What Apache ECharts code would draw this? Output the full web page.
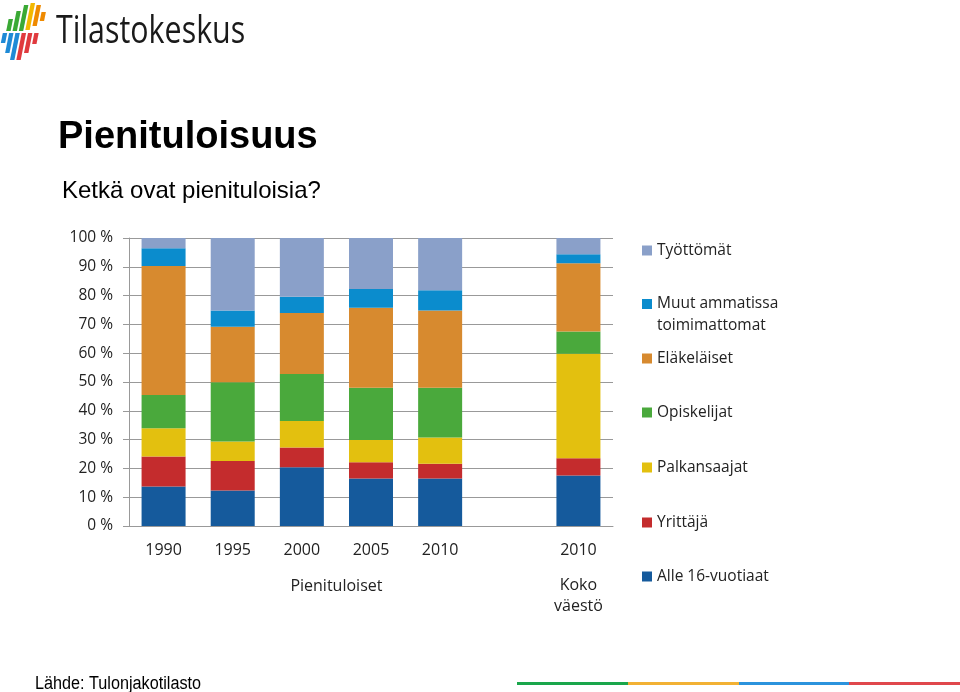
<!DOCTYPE html>
<html><head><meta charset="utf-8">
<script src="https://cdn.jsdelivr.net/npm/echarts@6/dist/echarts.min.js"></script>
<style>html,body{margin:0;padding:0;background:#fff}#c{width:960px;height:692px}</style>
</head><body><div id="c"></div>
<script>
// ---- data ----
var categories = ['1990', '1995', '2000', '2005', '2010', '', '2010'];
var alle16 = [13.7, 12.3, 20.4, 16.5, 16.5, '-', 17.5];
var yrittaja = [10.4, 10.3, 6.9, 5.6, 5.1, '-', 6.0];
var palkansaajat = [9.8, 6.7, 9.2, 7.8, 9.1, '-', 36.3];
var opiskelijat = [11.6, 20.6, 16.3, 18.1, 17.3, '-', 7.7];
var elakelaiset = [44.8, 19.3, 21.2, 27.8, 26.8, '-', 23.7];
var muut = [6.1, 5.6, 5.6, 6.5, 7.1, '-', 3.2];
var tyottomat = [3.6, 25.2, 20.4, 17.7, 18.1, '-', 5.6];
var seriesNames = ['Alle 16-vuotiaat', 'Yrittäjä', 'Palkansaajat', 'Opiskelijat', 'Eläkeläiset', 'Muut ammatissa toimimattomat', 'Työttömät'];
var seriesData = [alle16, yrittaja, palkansaajat, opiskelijat, elakelaiset, muut, tyottomat];
var seriesColors = ['#155a9c', '#c42c2d', '#e3c00f', '#4aa93c', '#d78a2f', '#0b8ccd', '#8aa0c9'];
var yTicks = {min: 0, max: 100, interval: 10};
var groupLabel = 'Pienituloiset';
var totalLabel = 'Koko\nväestö';

var font = '"Open Sans", "DejaVu Sans", sans-serif';
var chart = echarts.init(document.getElementById('c'));

// legends (top to bottom, reverse of stacking)
var legendOrder = [6, 5, 4, 3, 2, 1, 0];
var legendCenters = [249, 303, 357, 411, 466, 521, 575];
var legends = legendOrder.map(function (si, k) {
  var multi = seriesNames[si] === 'Muut ammatissa toimimattomat';
  return {
    data: [seriesNames[si]],
    orient: 'vertical', left: 642,
    top: multi ? legendCenters[k] - 32 : legendCenters[k] - 8.5,
    padding: 0, itemWidth: 10, itemHeight: 10, icon: 'rect', selectedMode: false,
    formatter: function (n) { return n === 'Muut ammatissa toimimattomat' ? ' \nMuut ammatissa\ntoimimattomat' : n; },
    textStyle: {fontFamily: font, fontSize: 15.5, color: '#222', lineHeight: multi ? 22 : 20}
  };
});

var option = {
  animation: false,
  backgroundColor: '#fff',
  grid: {left: 129, right: 347, top: 238, bottom: 166, containLabel: false},
  legend: legends,
  xAxis: {
    type: 'category', data: categories,
    axisLine: {show: true, lineStyle: {color: '#999', width: 1}},
    axisTick: {show: false},
    axisLabel: {interval: 0, margin: 16, fontFamily: font, fontSize: 16, color: '#222'}
  },
  yAxis: {
    type: 'value', min: yTicks.min, max: yTicks.max, interval: yTicks.interval,
    axisLine: {show: true, lineStyle: {color: '#999'}},
    axisTick: {show: true, length: 6, lineStyle: {color: '#999'}},
    splitLine: {lineStyle: {color: '#999', width: 1}},
    axisLabel: {margin: 16, fontFamily: font, fontSize: 15.5, color: '#222', formatter: '{value} %'}
  },
  series: seriesNames.map(function (n, i) {
    return {name: n, type: 'bar', stack: 'total', barWidth: 44, data: seriesData[i],
      itemStyle: {color: seriesColors[i]}};
  })
};
chart.setOption(option);

// group labels under axis, positioned through the axis scale
var p0 = chart.convertToPixel({gridIndex: 0}, [0, 0]);
var p5 = chart.convertToPixel({gridIndex: 0}, [5, 0]);
var p6 = chart.convertToPixel({gridIndex: 0}, [6, 0]);

// logo stripes
var logoTop = [
  {x: 6, top: 19, bot: 31, c: '#3aa935'},
  {x: 12.3, top: 11, bot: 31, c: '#3aa935'},
  {x: 18.6, top: 5, bot: 31, c: '#3aa935'},
  {x: 24.9, top: 3, bot: 30, c: '#f3b800'},
  {x: 31.2, top: 5, bot: 26, c: '#ef8a00'},
  {x: 37.5, top: 12, bot: 21, c: '#ef8a00'}
];
var logoBot = [
  {x: 3, top: 33, bot: 43, c: '#1e8ad6'},
  {x: 9.3, top: 33, bot: 53, c: '#1e8ad6'},
  {x: 15.6, top: 33, bot: 60, c: '#1e8ad6'},
  {x: 21.9, top: 33, bot: 60, c: '#e03a3e'},
  {x: 28.2, top: 33, bot: 53, c: '#e03a3e'},
  {x: 34.5, top: 33, bot: 44, c: '#e03a3e'}
];
function stripe(s) {
  var sk = 0.2, w = 4.4;
  var xt = s.x + (32 - s.top) * sk, xb = s.x + (32 - s.bot) * sk;
  return {type: 'polygon', shape: {points: [[xt, s.top], [xt + w, s.top], [xb + w, s.bot], [xb, s.bot]]}, style: {fill: s.c}};
}
var graphics = logoTop.concat(logoBot).map(stripe);
graphics.push(
  {type: 'text', x: 56, y: 32, scaleX: 0.8, style: {text: 'Tilastokeskus', font: '38px "Open Sans", sans-serif', fill: '#1a1a1a', verticalAlign: 'middle'}},
  {type: 'text', x: 58, y: 138, style: {text: 'Pienituloisuus', font: 'bold 38px "Liberation Sans", Arial, sans-serif', fill: '#000', verticalAlign: 'middle'}},
  {type: 'text', x: 62, y: 191, style: {text: 'Ketkä ovat pienituloisia?', font: '24px "Liberation Sans", Arial, sans-serif', fill: '#000', verticalAlign: 'middle'}},
  {type: 'text', x: 35, y: 684, scaleX: 0.9, style: {text: 'Lähde: Tulonjakotilasto', font: '18px "Liberation Sans", Arial, sans-serif', fill: '#000', verticalAlign: 'middle'}},
  {type: 'text', x: (p0[0] + p5[0]) / 2, y: 586, style: {text: groupLabel, font: '16px ' + font, fill: '#222', align: 'center', verticalAlign: 'middle'}},
  {type: 'text', x: p6[0], y: 596, style: {text: totalLabel, font: '16px ' + font, fill: '#222', align: 'center', verticalAlign: 'middle', lineHeight: 21}},
  {type: 'rect', shape: {x: 517, y: 682, width: 111, height: 3}, style: {fill: '#1aa64b'}},
  {type: 'rect', shape: {x: 628, y: 682, width: 111, height: 3}, style: {fill: '#f2b134'}},
  {type: 'rect', shape: {x: 739, y: 682, width: 110, height: 3}, style: {fill: '#2b93dd'}},
  {type: 'rect', shape: {x: 849, y: 682, width: 111, height: 3}, style: {fill: '#e0474c'}}
);
chart.setOption({graphic: graphics});
</script></body></html>
